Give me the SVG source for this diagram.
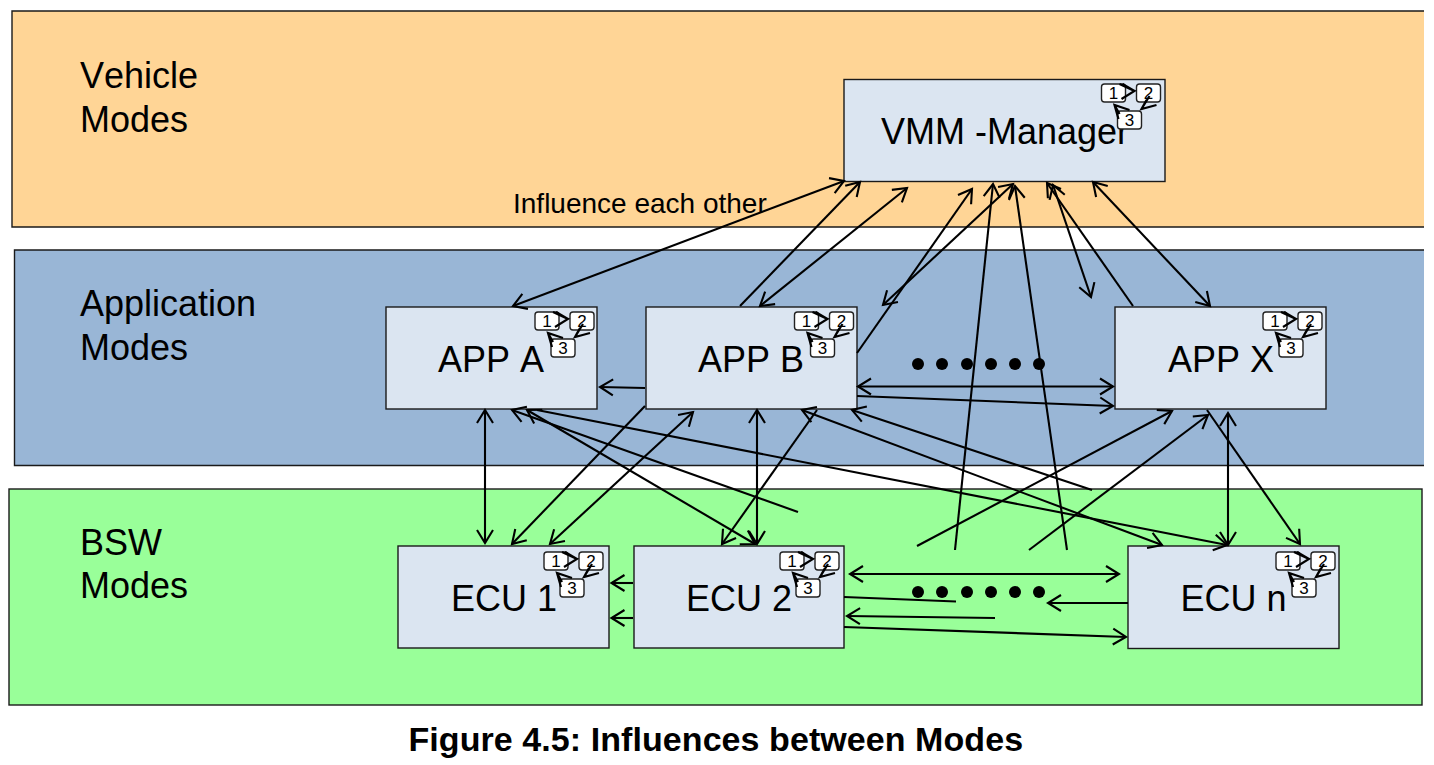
<svg xmlns="http://www.w3.org/2000/svg" width="1434" height="765" viewBox="0 0 1434 765">
<style>
text{font-family:"Liberation Sans",Arial,sans-serif;fill:#000;font-kerning:none}
.edge{stroke:#1a1a1a;stroke-width:1.4;fill:none}
.band{stroke:#1a1a1a;stroke-width:1.4}
.lbl{font-size:36px}
.node{fill:#dbe5f1;stroke:#1a1a1a;stroke-width:1.4}
.small{fill:#fff;stroke:#222;stroke-width:1.4}
.num{font-size:17px;text-anchor:middle}
.m{stroke:#000;stroke-width:2.1;fill:none;marker-end:url(#h)}
.d{stroke:#000;stroke-width:2.1;fill:none;marker-start:url(#h);marker-end:url(#h)}
.p{stroke:#000;stroke-width:2.1;fill:none}
.ic{stroke:#000;stroke-width:2.2;fill:none}
.dot{fill:#000}
</style>
<defs>
<marker id="h" viewBox="0 0 30 30" markerUnits="userSpaceOnUse" markerWidth="30" markerHeight="30" refX="15" refY="15" orient="auto-start-reverse"><path d="M2,7 L15,15 L2,23" fill="none" stroke="#000" stroke-width="2.1"/></marker>
<g id="boxes"><rect class="small" x="-62" y="5" width="24" height="18" rx="3"/><rect class="small" x="-27" y="5" width="24" height="18" rx="3"/><rect class="small" x="-46" y="32" width="24" height="18" rx="3"/></g>
<g id="loop"><path class="ic" d="M-44,5 L-29,12 L-42,20 M-41,5 L-29,12"/><path class="ic" d="M-7,26 L-22,30 L-17,21 M-22,30 L-14,17"/><path class="ic" d="M-34,31 L-49,26 L-45,40 M-49,26 L-44,35"/></g>
</defs>
<g id="band-vehicle"><rect x="12" y="11" width="1412" height="216" fill="#ffd596"/><path class="edge" d="M1424,11 H12 V227 H1424"/><text class="lbl" x="80" y="88">Vehicle</text><text class="lbl" x="80" y="132">Modes</text></g>
<g id="band-application"><rect x="14.500" y="250" width="1409.500" height="215.500" fill="#99b6d6"/><path class="edge" d="M1424,250 H14.500 V465.500 H1424"/><text class="lbl" x="80" y="316">Application</text><text class="lbl" x="80" y="360">Modes</text></g>
<g id="band-bsw"><rect class="band" x="9" y="489" width="1413" height="216" fill="#99ff99"/><text class="lbl" x="80" y="555">BSW</text><text class="lbl" x="80" y="598">Modes</text></g>
<g id="node-vmm"><rect class="node" x="844" y="79.500" width="321" height="102"/><text class="lbl" x="881" y="144">VMM -Manager</text>
<g transform="translate(1163.500,79)"><use href="#boxes"/><text class="num" x="-50" y="19.500">1</text><text class="num" x="-15" y="19.500">2</text><text class="num" x="-34" y="46.500">3</text><use href="#loop"/></g></g>
<g id="node-app-a"><rect class="node" x="386" y="307" width="211" height="102"/><text class="lbl" x="438" y="372">APP A</text>
<g transform="translate(597,307)"><use href="#boxes"/><text class="num" x="-50" y="19.500">1</text><text class="num" x="-15" y="19.500">2</text><text class="num" x="-34" y="46.500">3</text><use href="#loop"/></g></g>
<g id="node-app-b"><rect class="node" x="646" y="307" width="211" height="102"/><text class="lbl" x="698" y="372">APP B</text>
<g transform="translate(856.500,307)"><use href="#boxes"/><text class="num" x="-50" y="19.500">1</text><text class="num" x="-15" y="19.500">2</text><text class="num" x="-34" y="46.500">3</text><use href="#loop"/></g></g>
<g id="node-app-x"><rect class="node" x="1115" y="307" width="211" height="102"/><text class="lbl" x="1168" y="372">APP X</text>
<g transform="translate(1325,307)"><use href="#boxes"/><text class="num" x="-50" y="19.500">1</text><text class="num" x="-15" y="19.500">2</text><text class="num" x="-34" y="46.500">3</text><use href="#loop"/></g></g>
<g id="node-ecu-1"><rect class="node" x="398" y="546" width="211" height="102"/><text class="lbl" x="451" y="611">ECU 1</text>
<g transform="translate(606,547)"><use href="#boxes"/><text class="num" x="-50" y="19.500">1</text><text class="num" x="-15" y="19.500">2</text><text class="num" x="-34" y="46.500">3</text><use href="#loop"/></g></g>
<g id="node-ecu-2"><rect class="node" x="634" y="546" width="210" height="102"/><text class="lbl" x="686" y="611">ECU 2</text>
<g transform="translate(842,547)"><use href="#boxes"/><text class="num" x="-50" y="19.500">1</text><text class="num" x="-15" y="19.500">2</text><text class="num" x="-34" y="46.500">3</text><use href="#loop"/></g></g>
<g id="node-ecu-n"><rect class="node" x="1128" y="546" width="211" height="102.500"/><text class="lbl" x="1180.500" y="611">ECU n</text>
<g transform="translate(1338,547)"><use href="#boxes"/><text class="num" x="-50" y="19.500">1</text><text class="num" x="-15" y="19.500">2</text><text class="num" x="-34" y="46.500">3</text><use href="#loop"/></g></g>
<g id="dots">
<circle class="dot" cx="918" cy="364" r="6"/><circle class="dot" cx="942" cy="364" r="6"/><circle class="dot" cx="967" cy="364" r="6"/><circle class="dot" cx="991" cy="364" r="6"/><circle class="dot" cx="1015" cy="364" r="6"/><circle class="dot" cx="1039" cy="364" r="6"/>
<circle class="dot" cx="918" cy="592" r="6"/><circle class="dot" cx="942" cy="592" r="6"/><circle class="dot" cx="967" cy="592" r="6"/><circle class="dot" cx="991" cy="592" r="6"/><circle class="dot" cx="1015" cy="592" r="6"/><circle class="dot" cx="1039" cy="592" r="6"/>
</g>
<g id="connectors">
<line class="d" x1="513" y1="306" x2="844" y2="181"/>
<line class="m" x1="740" y1="306" x2="860" y2="182"/>
<line class="d" x1="760" y1="306" x2="907" y2="188"/>
<line class="m" x1="857" y1="353" x2="972" y2="189"/>
<line class="d" x1="883" y1="305" x2="1013" y2="184"/>
<line class="m" x1="955" y1="550" x2="993" y2="184"/>
<line class="m" x1="1067" y1="550" x2="1015" y2="186"/>
<line class="d" x1="1053" y1="185" x2="1091" y2="297"/>
<line class="m" x1="1133" y1="306" x2="1047" y2="183"/>
<line class="d" x1="1093" y1="182" x2="1210" y2="306"/>
<line class="m" x1="645" y1="388" x2="600" y2="387"/>
<line class="d" x1="858" y1="386.500" x2="1113" y2="386.500"/>
<line class="m" x1="857" y1="396" x2="1113" y2="406"/>
<line class="d" x1="485" y1="410" x2="485" y2="543"/>
<line class="m" x1="645" y1="406" x2="512" y2="544"/>
<line class="d" x1="693" y1="412" x2="550" y2="544"/>
<line class="d" x1="757" y1="410" x2="757" y2="544"/>
<line class="m" x1="817" y1="410" x2="722" y2="544"/>
<line class="m" x1="798" y1="512" x2="512" y2="410"/>
<line class="d" x1="527" y1="410" x2="755" y2="544"/>
<line class="m" x1="537" y1="410" x2="1227" y2="545"/>
<line class="d" x1="802" y1="410" x2="1162" y2="545"/>
<line class="m" x1="1092" y1="490" x2="852" y2="410"/>
<line class="m" x1="917" y1="546" x2="1172" y2="411"/>
<line class="m" x1="1029" y1="550" x2="1208" y2="415"/>
<line class="d" x1="1228" y1="413" x2="1228" y2="545"/>
<line class="m" x1="1207" y1="410" x2="1300" y2="544"/>
<line class="m" x1="633" y1="583" x2="611.500" y2="583"/>
<line class="m" x1="633" y1="618" x2="611.500" y2="618"/>
<line class="d" x1="850" y1="574" x2="1119" y2="574"/>
<line class="p" x1="844" y1="597" x2="956" y2="601.500"/>
<line class="m" x1="1128" y1="603" x2="1048" y2="603"/>
<line class="m" x1="995" y1="618" x2="847" y2="616"/>
<line class="m" x1="844" y1="627" x2="1126" y2="637"/>
</g>
<text x="513" y="213" font-size="28">Influence each other</text>
<text x="408.500" y="751" font-size="34" font-weight="bold" letter-spacing="0.07">Figure 4.5: Influences between Modes</text>
</svg>
